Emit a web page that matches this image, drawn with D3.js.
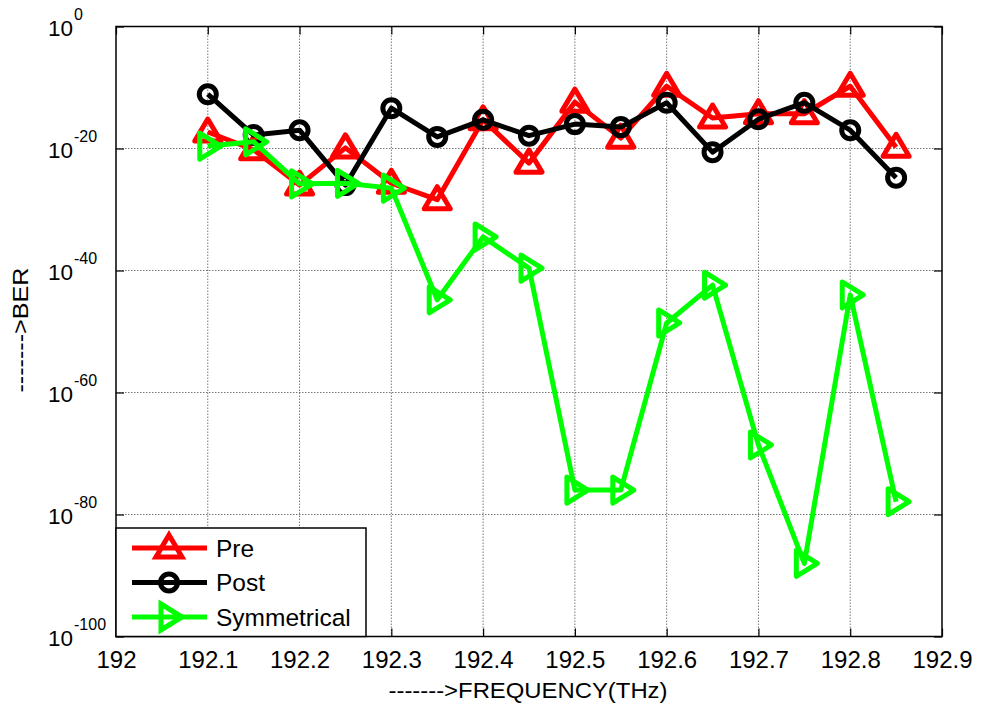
<!DOCTYPE html>
<html lang="en">
<head>
  <meta charset="UTF-8">
  <title>BER vs Frequency</title>
  <script src="https://d3js.org/d3.v7.min.js"></script>
  <style>
    body { margin: 0; background: #fff; }
    text { font-family: "Liberation Sans", Arial, sans-serif; fill: #000; }
  </style>
</head>
<body>
  <div class="canvas"></div>
  <script>
    // data
    const frequency = [192.1, 192.15, 192.2, 192.25, 192.3, 192.35, 192.4, 192.45,
                       192.5, 192.55, 192.6, 192.65, 192.7, 192.75, 192.8, 192.85];
    const berPre = [5e-18, 6.3e-21, 1e-26, 1.26e-20, 2e-26, 4e-29, 5e-16, 4e-23,
                    4e-13, 5e-19, 1.6e-10, 1e-15, 5e-15, 5e-15, 1.6e-10, 1.6e-20];
    const berPost = [8e-12, 1.6e-18, 1e-17, 1e-26, 4e-14, 8e-19, 5e-16, 1.26e-18,
                     1e-16, 3.2e-17, 3.2e-13, 2.5e-21, 6.3e-16, 3.2e-13, 1e-17, 1.6e-25];
    const berSym = [2.5e-20, 1.26e-19, 1.6e-26, 2e-26, 3.2e-27, 1.6e-45, 3.2e-35, 2.5e-40,
                    1e-76, 1e-76, 2.5e-49, 4e-43, 2.5e-69, 1e-88, 1e-44, 1.26e-78];
    const xTicks = [192, 192.1, 192.2, 192.3, 192.4, 192.5, 192.6, 192.7, 192.8, 192.9];
    const yTickExp = [0, -20, -40, -60, -80, -100];
    const seriesNames = ["Pre", "Post", "Symmetrical"];

    const width = 981;
    const height = 705;
    let [mt, mb, mr, ml] = [26.5, 68.5, 39, 116];
    const graphWidth = width - ml - mr;
    const graphHeight = height - mt - mb;

    const svg = d3.select('.canvas')
      .append('svg')
      .attr('width', width)
      .attr('height', height);

    const graph = svg.append('g')
      .attr('transform', `translate(${ml}, ${mt})`);

    const x = d3.scaleLinear()
      .domain([192, 192.9])
      .range([0, graphWidth]);

    const y = d3.scaleLog()
      .domain([1e-100, 1])
      .range([graphHeight, 0]);

    // grid
    graph.append('g').selectAll('line')
      .data(xTicks.slice(1, -1))
      .enter().append('line')
      .attr('x1', d => x(d)).attr('x2', d => x(d))
      .attr('y1', 0).attr('y2', graphHeight)
      .attr('stroke', '#555').attr('stroke-width', 0.8)
      .attr('stroke-dasharray', '1.5,1.5');

    graph.append('g').selectAll('line')
      .data(yTickExp.slice(1, -1))
      .enter().append('line')
      .attr('x1', 0).attr('x2', graphWidth)
      .attr('y1', d => y(Math.pow(10, d))).attr('y2', d => y(Math.pow(10, d)))
      .attr('stroke', '#555').attr('stroke-width', 0.8)
      .attr('stroke-dasharray', '1.5,1.5');

    // axes with inward ticks (bottom/top, left/right)
    const xAxis = d3.axisBottom(x).tickValues(xTicks).tickSizeInner(-8).tickSizeOuter(0)
      .tickFormat(d => d3.format('')(+d.toFixed(1)));
    const xAxisTop = d3.axisTop(x).tickValues(xTicks).tickSizeInner(-8).tickSizeOuter(0).tickFormat('');
    const yVals = yTickExp.map(e => Math.pow(10, e));
    const yAxis = d3.axisLeft(y).tickValues(yVals).tickSizeInner(-8).tickSizeOuter(0).tickFormat('');
    const yAxisRight = d3.axisRight(y).tickValues(yVals).tickSizeInner(-8).tickSizeOuter(0).tickFormat('');

    const xAxisG = graph.append('g').attr('transform', `translate(0, ${graphHeight})`).call(xAxis);
    graph.append('g').call(xAxisTop);
    graph.append('g').call(yAxis);
    graph.append('g').attr('transform', `translate(${graphWidth}, 0)`).call(yAxisRight);

    graph.selectAll('.domain').remove();
    graph.selectAll('.tick line').attr('stroke', '#000').attr('stroke-width', 1.2);

    xAxisG.selectAll('.tick text')
      .attr('y', 0)
      .attr('dy', 31)
      .attr('font-size', 24)
      .attr('font-family', '"Liberation Sans", Arial, sans-serif')
      .attr('fill', '#000');

    // y tick labels as 10^n
    graph.append('g').selectAll('text')
      .data(yTickExp)
      .enter().append('text')
      .attr('x', 73 - ml)
      .attr('y', d => y(Math.pow(10, d)) + 9.5)
      .attr('text-anchor', 'end')
      .attr('font-size', 22.5)
      .text('10');
    graph.append('g').selectAll('text')
      .data(yTickExp)
      .enter().append('text')
      .attr('x', 74 - ml)
      .attr('y', d => y(Math.pow(10, d)) - 7)
      .attr('font-size', 16)
      .text(d => d);

    // frame
    graph.append('rect')
      .attr('width', graphWidth).attr('height', graphHeight)
      .attr('fill', 'none').attr('stroke', '#000').attr('stroke-width', 1.5);

    // axis titles
    svg.append('text')
      .attr('x', 528).attr('y', 698)
      .attr('text-anchor', 'middle')
      .attr('font-size', 22)
      .attr('textLength', 279)
      .attr('lengthAdjust', 'spacingAndGlyphs')
      .text('------->FREQUENCY(THz)');
    svg.append('text')
      .attr('transform', 'translate(28, 330) rotate(-90)')
      .attr('text-anchor', 'middle')
      .attr('font-size', 22)
      .attr('textLength', 125)
      .attr('lengthAdjust', 'spacingAndGlyphs')
      .text('------->BER');

    // markers
    const triUp = 'M0,-13L13,9L-13,9Z';
    const triRight = 'M-8,-13L13,0L-8,13Z';
    const colorScale = d3.scaleOrdinal().domain(seriesNames).range(['#ff0000', '#000000', '#00ff00']);

    function drawMarker(sel, name) {
      if (name === 'Post') {
        sel.append('circle').attr('r', 8.5);
      } else {
        sel.append('path').attr('d', name === 'Pre' ? triUp : triRight);
      }
    }

    const series = [
      { name: 'Pre', values: berPre },
      { name: 'Post', values: berPost },
      { name: 'Symmetrical', values: berSym }
    ];

    const line = d3.line().x(d => x(d[0])).y(d => y(d[1]));

    series.forEach(s => {
      const pts = frequency.map((f, i) => [f, s.values[i]]);
      const g = graph.append('g')
        .attr('stroke', colorScale(s.name))
        .attr('fill', 'none')
        .attr('stroke-width', 5)
        .attr('stroke-linejoin', 'round');
      g.append('path').attr('d', line(pts));
      pts.forEach(p => {
        const m = g.append('g').attr('transform', `translate(${x(p[0])}, ${y(p[1])})`);
        drawMarker(m, s.name);
      });
    });

    // legend
    const legend = svg.append('g');
    legend.append('rect')
      .attr('x', ml).attr('y', 528)
      .attr('width', 250).attr('height', mt + graphHeight - 528)
      .attr('fill', '#fff').attr('stroke', '#000').attr('stroke-width', 1.5);
    series.forEach((s, i) => {
      const ly = 548 + i * 34.5;
      const row = legend.append('g')
        .attr('stroke', colorScale(s.name))
        .attr('fill', 'none')
        .attr('stroke-width', 5);
      row.append('line').attr('x1', 132).attr('x2', 207).attr('y1', ly).attr('y2', ly);
      const m = row.append('g').attr('transform', `translate(169, ${ly})`);
      drawMarker(m, s.name);
      legend.append('text')
        .attr('x', 216).attr('y', ly + 8.5)
        .attr('font-size', 24.5)
        .text(s.name);
    });
  </script>
</body>
</html>
